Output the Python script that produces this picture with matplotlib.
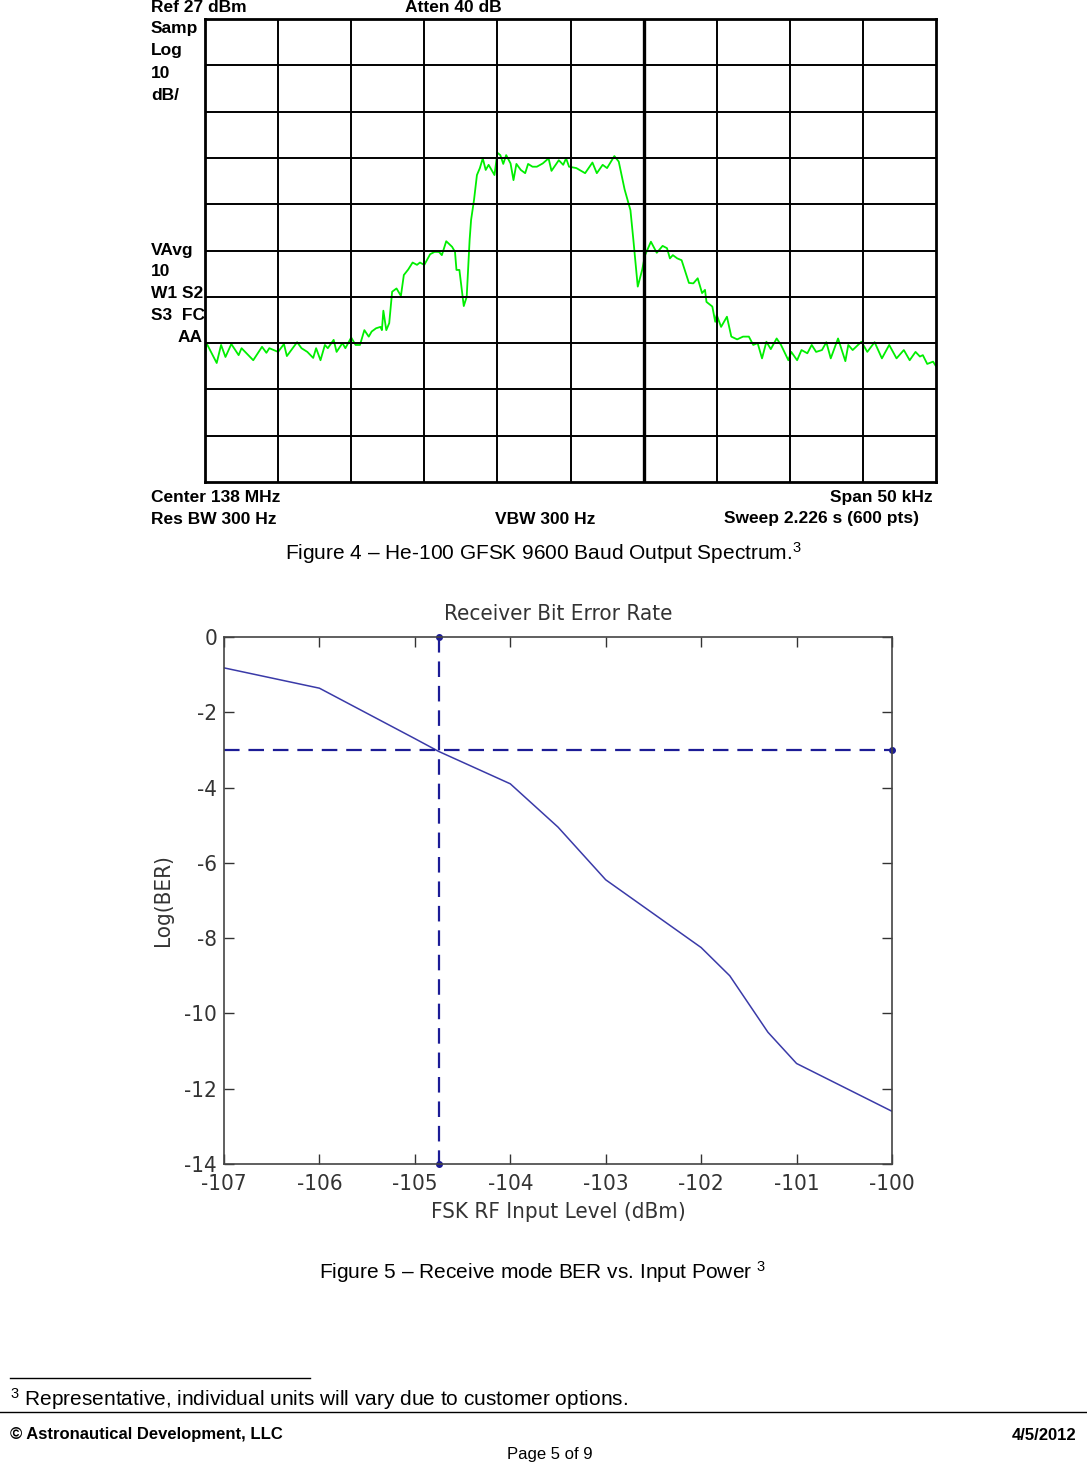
import matplotlib
matplotlib.use("Agg")
import matplotlib.pyplot as plt
from matplotlib.lines import Line2D

plt.rcParams["mathtext.fontset"] = "custom"
plt.rcParams["mathtext.rm"] = "Liberation Sans"
plt.rcParams["mathtext.it"] = "Liberation Sans"

W, H = 1087, 1464
ARIAL = ["Liberation Sans", "DejaVu Sans"]
MATLAB = ["DejaVu Sans"]

# spectrum analyser trace (offset from 138 MHz in kHz, level in dBm)
spec_khz = [-25.0, -24.9, -24.2, -23.9, -23.6, -23.2, -22.7, -22.5, -21.7, -21.1,
            -20.8, -20.6, -20.0, -19.6, -19.4, -18.7, -18.4, -18.0, -17.6, -17.4,
            -17.1, -16.8, -16.6, -16.2, -16.0, -15.6, -15.4, -15.0, -14.7, -14.4,
            -14.1, -13.8, -13.6, -13.3, -13.0, -12.9, -12.8, -12.6, -12.4, -12.2,
            -11.9, -11.6, -11.4, -11.1, -10.8, -10.5, -10.3, -10.0, -9.6, -9.3,
            -9.0, -8.8, -8.5, -8.1, -7.9, -7.8, -7.6, -7.3, -7.1, -6.9,
            -6.8, -6.6, -6.4, -6.2, -6.0, -5.8, -5.6, -5.2, -5.0, -4.8,
            -4.6, -4.4, -4.1, -3.9, -3.7, -3.4, -3.1, -2.9, -2.6, -2.3,
            -1.9, -1.5, -1.3, -0.8, -0.5, -0.3, -0.1, 0.4, 1.0, 1.5,
            1.8, 2.2, 2.5, 3.0, 3.3, 3.7, 4.1, 4.3, 4.6, 4.9,
            5.1, 5.5, 5.9, 6.3, 6.6, 6.8, 7.0, 7.3, 7.6, 8.1,
            8.4, 8.7, 9.0, 9.2, 9.3, 9.7, 9.9, 10.0, 10.3, 10.7,
            11.0, 11.4, 11.8, 12.2, 12.5, 12.8, 13.1, 13.4, 13.7, 14.1,
            14.4, 14.9, 15.1, 15.5, 15.8, 16.2, 16.5, 16.8, 17.2, 17.5,
            17.8, 18.3, 18.8, 19.0, 19.3, 19.9, 20.3, 20.8, 21.3, 21.8,
            22.3, 22.8, 23.2, 23.6, 23.9, 24.1, 24.4, 24.8, 25.0]
spec_dbm = [-46.0, -43.0, -47.3, -43.4, -46.0, -43.2, -45.6, -44.1, -46.7, -43.8,
            -45.1, -44.1, -44.9, -43.2, -45.8, -42.8, -44.1, -44.9, -46.2, -44.1,
            -46.7, -43.4, -44.1, -42.3, -44.9, -43.0, -44.1, -41.8, -43.4, -43.4,
            -40.2, -41.6, -40.5, -39.8, -39.5, -40.2, -36.0, -40.2, -38.7, -31.9,
            -31.2, -32.8, -28.3, -27.1, -25.6, -26.1, -25.6, -26.1, -23.8, -23.3,
            -23.3, -24.0, -21.0, -22.2, -23.3, -27.2, -27.2, -35.0, -33.0, -20.7,
            -16.4, -12.1, -6.7, -5.2, -3.1, -5.6, -4.5, -6.7, -1.9, -2.4,
            -4.3, -2.4, -4.2, -7.8, -4.3, -5.6, -6.3, -4.3, -4.9, -4.9,
            -4.2, -3.1, -5.8, -3.5, -4.5, -3.1, -4.9, -5.2, -6.3, -4.0,
            -6.3, -4.5, -5.2, -2.6, -3.8, -9.8, -14.3, -20.7, -30.8, -27.2,
            -24.0, -21.1, -23.5, -22.0, -22.5, -24.7, -24.0, -24.7, -25.1, -30.0,
            -30.1, -29.0, -32.2, -31.5, -34.1, -35.1, -38.4, -36.9, -39.5, -37.3,
            -41.6, -42.2, -41.6, -41.6, -43.4, -43.0, -46.3, -42.7, -44.3, -42.0,
            -43.4, -46.7, -44.9, -46.7, -44.5, -45.2, -43.4, -44.9, -44.5, -42.8,
            -46.3, -42.0, -46.9, -43.4, -44.5, -42.7, -44.9, -42.8, -46.3, -43.4,
            -46.3, -44.5, -46.7, -44.9, -45.9, -45.6, -47.5, -47.0, -48.0]

# receiver BER curve
ber_dbm = [-107, -106, -105, -104.75, -104, -103.5, -103, -102, -101.7, -101.3, -101, -100]
ber_log = [-0.82, -1.36, -2.7, -3.04, -3.9, -5.05, -6.45, -8.25, -9.0, -10.5, -11.33, -12.6]
ber_xticks = [-107, -106, -105, -104, -103, -102, -101, -100]
ber_yticks = [0, -2, -4, -6, -8, -10, -12, -14]
sens_dbm = -104.75
sens_log = -3.0


def pos(x, y):
    return x / W, 1 - y / H


fig = plt.figure(figsize=(W / 100, H / 100), dpi=100)

# ---- spectrum analyser screen ----
ax1 = fig.add_axes([205 / W, 1 - 482 / H, 731 / W, 463 / H])
ax1.plot(spec_khz, spec_dbm, color="#00ee00", lw=1.3)
ax1.set_xlim(-25, 25)
ax1.set_ylim(-73, 27)
for k in range(-20, 25, 5):
    ax1.axvline(k, color="black", lw=2.4 if k == 5 else 1.4)
for d in range(-63, 27, 10):
    ax1.axhline(d, color="black", lw=1.4)
ax1.set_xticks([])
ax1.set_yticks([])
for s in ax1.spines.values():
    s.set_linewidth(2)

bold = dict(family=ARIAL, fontsize=12.5, fontweight="bold", va="center")
fig.text(*pos(151, 8), "Ref 27 dBm", **bold)
fig.text(*pos(405, 8), "Atten 40 dB", **bold)
for y, t in [(28, "Samp"), (51, "Log"), (73, "10"), (95, "dB/"),
             (250, "VAvg"), (272, "10"), (294, "W1 S2"), (316, "S3  FC")]:
    fig.text(*pos(151, y), t, **bold)
fig.text(*pos(203, 338), "AA", ha="right", **bold)
fig.text(*pos(151, 497), "Center 138 MHz", **bold)
fig.text(*pos(933, 497), "Span 50 kHz", ha="right", **bold)
fig.text(*pos(151, 519), "Res BW 300 Hz", **bold)
fig.text(*pos(495, 519), "VBW 300 Hz", **bold)
fig.text(*pos(919, 519), "Sweep 2.226 s (600 pts)", ha="right", **bold)
fig.text(*pos(543, 553), "Figure 4 \u2013 He-100 GFSK 9600 Baud Output Spectrum.$^{3}$",
         family=ARIAL, fontsize=15, ha="center", va="center")

# ---- BER plot ----
ax2 = fig.add_axes([224 / W, 1 - 1164 / H, 668 / W, 527 / H])
ax2.plot(ber_dbm, ber_log, color="#3a3aa8", lw=1.1)
ax2.plot([sens_dbm, sens_dbm], [0, -14], color="#1c1c96", lw=1.6,
         ls=(0, (7, 4)), marker="o", ms=4, clip_on=False)
ax2.plot([-107, -100], [sens_log, sens_log], color="#1c1c96", lw=1.6,
         ls=(0, (7, 4)), marker="o", ms=4, markevery=[1], clip_on=False)
ax2.set_xlim(-107, -100)
ax2.set_ylim(-14, 0)
ax2.set_xticks(ber_xticks)
ax2.set_yticks(ber_yticks)
ax2.set_xticklabels([str(v) for v in ber_xticks])
ax2.set_yticklabels([str(v) for v in ber_yticks])
ax2.tick_params(direction="in", length=7, width=1, top=True, right=True,
                labelsize=16, colors="#333333")
ax2.tick_params(axis="x", pad=7)
ax2.tick_params(axis="y", pad=5)
for lab in ax2.get_xticklabels() + ax2.get_yticklabels():
    lab.set_family(MATLAB)
    lab.set_fontstretch("condensed")
for s in ax2.spines.values():
    s.set_linewidth(1.2)
    s.set_color("#444444")
ax2.set_title("Receiver Bit Error Rate", family=MATLAB, fontstretch="condensed",
              fontsize=16, color="#333333", pad=12)
ax2.set_xlabel("FSK RF Input Level (dBm)", family=MATLAB, fontstretch="condensed",
               fontsize=16, color="#333333", labelpad=6)
ax2.set_ylabel("Log(BER)", family=MATLAB, fontstretch="condensed",
               fontsize=16, color="#333333", labelpad=8)

fig.text(*pos(543, 1272), "Figure 5 \u2013 Receive mode BER vs. Input Power $^{3}$",
         family=ARIAL, fontsize=15, ha="center", va="center")

# ---- page footer ----
fig.add_artist(Line2D([10 / W, 310 / W], [1 - 1378 / H] * 2, color="black", lw=1))
fig.text(*pos(10, 1399), "$^{3}$ Representative, individual units will vary due to customer options.",
         family=ARIAL, fontsize=15, va="center")
fig.add_artist(Line2D([0, 1], [1 - 1412 / H] * 2, color="black", lw=1))
fig.text(*pos(10, 1435), "\u00a9 Astronautical Development, LLC", family=ARIAL,
         fontsize=12, fontweight="bold", va="center")
fig.text(*pos(1076, 1435), "4/5/2012", family=ARIAL, fontsize=12,
         fontweight="bold", va="center", ha="right")
fig.text(*pos(550, 1455), "Page 5 of 9", family=ARIAL, fontsize=12,
         va="center", ha="center")

fig.savefig("out.png", dpi=100)
